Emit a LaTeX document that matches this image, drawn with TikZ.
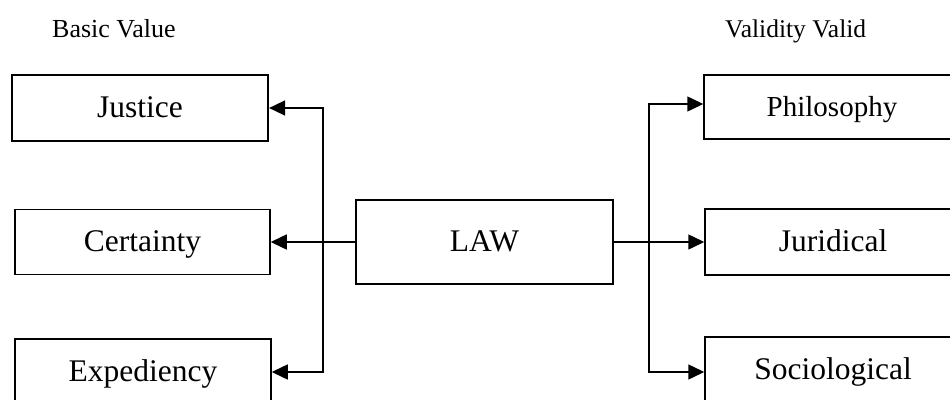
\documentclass[tikz,border=0pt]{standalone}
\usepackage{fontspec}
\setmainfont{Liberation Serif}
\usetikzlibrary{arrows.meta}

\tikzset{
  box/.style={draw, line width=1.5pt, rectangle, minimum width=256pt,
    inner sep=0pt, text height=19pt, text depth=0pt,
    font=\fontsize{31.5}{36}\selectfont},
  heading/.style={anchor=base west, inner sep=0pt,
    font=\fontsize{26}{30}\selectfont},
  arr/.style={line width=1.5pt, -{Triangle[length=16pt,width=15pt]}},
}

\begin{document}
\begin{tikzpicture}[x=1pt,y=-1pt]
  \useasboundingbox (0,0) rectangle (950,399);
  \clip (0,0) rectangle (950,399);

  % column headings
  \node[heading] (basic) at (52,37) {Basic Value};
  \node[heading, font=\fontsize{25.5}{30}\selectfont] (validity) at (725,37) {Validity Valid};

  % centre
  \node[box, line width=1.8pt, minimum width=257pt, minimum height=84pt] (law) at (484.5,242) {LAW};

  % basic values
  \node[box, line width=2.2pt, minimum height=66pt] (jus) at (140,108) {Justice};
  \node[box, minimum height=65pt, minimum width=255pt] (cert) at (142.5,242) {Certainty};
  \node[box, minimum height=66pt] (exped) at (143,372) {Expediency};

  % validity
  \node[box, minimum height=64pt, font=\fontsize{29}{34}\selectfont] (phil) at (832,107) {Philosophy};
  \node[box, minimum height=66pt] (jur) at (833,242) {Juridical};
  \node[box, minimum height=66pt] (soc) at (833,370) {Sociological};

  % vertical distribution lines
  \coordinate (lbus) at (323,0);
  \coordinate (rbus) at (649,0);

  % left side
  \draw[arr] (law.west) -- (cert.east);
  \draw[arr] (lbus |- cert.east) -- (lbus |- jus.east) -- (jus.east);
  \draw[arr] (lbus |- cert.east) -- (lbus |- exped.east) -- (exped.east);

  % right side
  \coordinate (philin) at ([yshift=3pt]phil.west);
  \coordinate (socin) at ([yshift=-2pt]soc.west);
  \draw[arr] (law.east) -- (jur.west);
  \draw[arr] (rbus |- law.east) -- (rbus |- philin) -- (philin);
  \draw[arr] (rbus |- law.east) -- (rbus |- socin) -- (socin);
\end{tikzpicture}
\end{document}
